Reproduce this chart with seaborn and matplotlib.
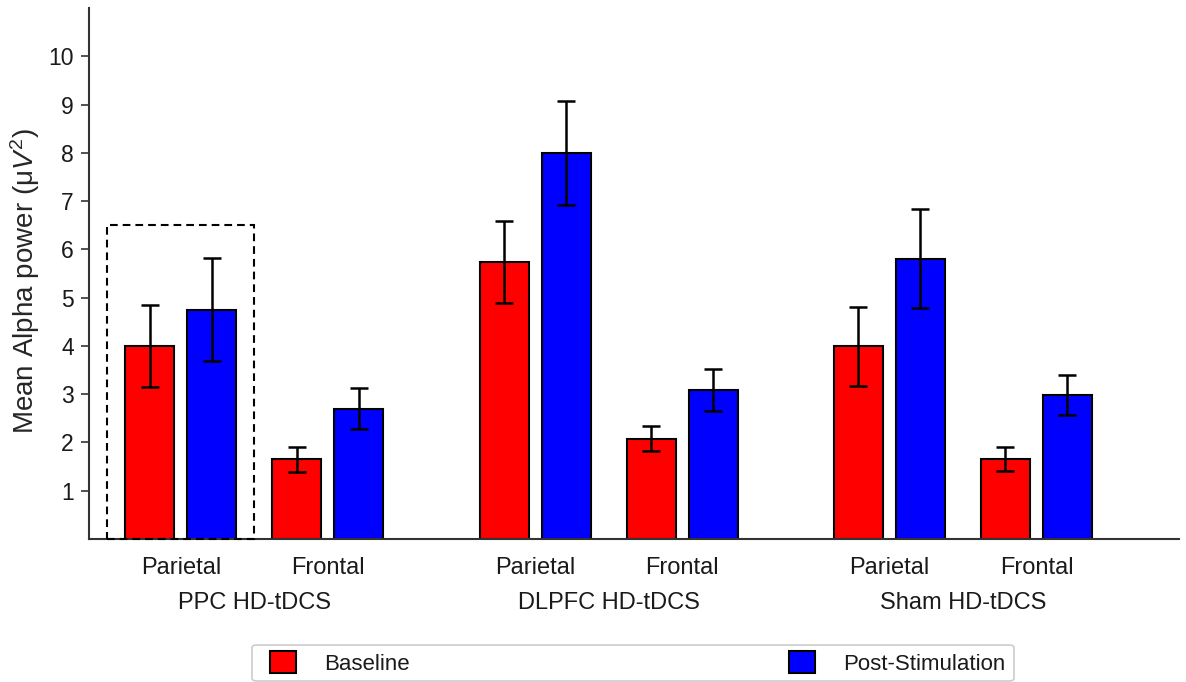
import numpy as np
import pandas as pd
import matplotlib.pyplot as plt
import seaborn as sns
from matplotlib.patches import Rectangle, Patch, FancyBboxPatch
from matplotlib.transforms import blended_transform_factory

# chart data
groups = ["PPC HD-tDCS", "DLPFC HD-tDCS", "Sham HD-tDCS"]
regions = ["Parietal", "Frontal"]
conditions = ["Baseline", "Post-Stimulation"]

baseline_mean = [4.00, 1.65, 5.74, 2.07, 3.99, 1.65]
baseline_err = [0.85, 0.26, 0.85, 0.26, 0.82, 0.25]
post_mean = [4.75, 2.70, 7.99, 3.08, 5.81, 2.98]
post_err = [1.07, 0.42, 1.08, 0.43, 1.03, 0.41]

colors = {"Baseline": "#ff0000", "Post-Stimulation": "#0000ff"}

# layout: where groups / regions sit on the x axis
group_pos = [0, 2.41, 4.82]
region_off = [0, 1]

rows = []
i = 0
for g, gp in zip(groups, group_pos):
    for r, ro in zip(regions, region_off):
        rows.append({"group": g, "region": r, "x": gp + ro, "condition": "Baseline",
                     "power": baseline_mean[i], "err": baseline_err[i]})
        rows.append({"group": g, "region": r, "x": gp + ro, "condition": "Post-Stimulation",
                     "power": post_mean[i], "err": post_err[i]})
        i += 1
df = pd.DataFrame(rows)

sns.set_style("ticks")
plt.rcParams["font.family"] = ["Liberation Sans", "DejaVu Sans"]
plt.rcParams["mathtext.fontset"] = "custom"
plt.rcParams["mathtext.rm"] = "Liberation Sans"
plt.rcParams["mathtext.it"] = "Liberation Sans:italic"
plt.rcParams["text.color"] = "#1a1a1a"
plt.rcParams["xtick.color"] = "#1a1a1a"
plt.rcParams["ytick.color"] = "#1a1a1a"

fig = plt.figure(figsize=(11.86, 6.82), dpi=100)
ax = fig.add_axes([0.075, 0.21, 0.919, 0.778])

sns.barplot(data=df, x="x", y="power", hue="condition", hue_order=conditions,
            palette=colors, saturation=1, native_scale=True, width=0.844, gap=0.21,
            errorbar=None, edgecolor="black", linewidth=1.5, legend=False, ax=ax)

# error bars on top of the seaborn bars
for cont, cond in zip(ax.containers, conditions):
    sub = df[df["condition"] == cond].sort_values("x")
    xs = [b.get_x() + b.get_width() / 2 for b in cont]
    hs = [b.get_height() for b in cont]
    ax.errorbar(xs, hs, yerr=sub["err"].values, fmt="none", ecolor="black",
                elinewidth=1.8, capsize=6.5, capthick=1.8, zorder=5)

# dashed box around PPC parietal
ax.add_patch(Rectangle((-0.5, 0), 1, 6.5, fill=False, ec="black", lw=1.5,
                       ls=(0, (3.7, 2.4)), clip_on=False, zorder=4))

ax.set_xlim(-0.626, 6.789)
ax.set_ylim(0, 11)
ax.set_yticks(range(1, 11))
ax.tick_params(axis="y", labelsize=16.5, length=6, width=1.2, pad=5, color="#333333")

xt = [gp + ro for gp in group_pos for ro in region_off]
ax.set_xticks(xt)
ax.set_xticklabels(regions * len(groups))
ax.tick_params(axis="x", labelsize=17, length=0, pad=13)

trans = blended_transform_factory(ax.transData, ax.transAxes)
for g, gp in zip(groups, group_pos):
    ax.text(gp + 0.5, -0.121, g, transform=trans, ha="center", va="center", fontsize=17)

ax.set_xlabel("")
ax.set_ylabel(r"Mean Alpha power (μ$V^2$)", fontsize=20)
ax.yaxis.set_label_coords(-0.043, 0.486)

sns.despine(ax=ax)
for s in ["left", "bottom"]:
    ax.spines[s].set_linewidth(1.5)
    ax.spines[s].set_color("#333333")

# legend frame drawn separately so the inner padding can be wider than tall
fig.patches.append(FancyBboxPatch((252 / 1186, 1 / 682), 762 / 1186, 36 / 682,
                                  boxstyle="round,pad=0,rounding_size=0.004",
                                  transform=fig.transFigure, fc="white", ec="0.8", lw=1.2))
handles = [Patch(facecolor=colors[c], edgecolor="black", linewidth=1.5) for c in conditions]
fig.legend(handles, conditions, loc="center left", bbox_to_anchor=(0.2277, 0.0279, 0.6197, 0),
           mode="expand", ncol=2, fontsize=16, handlelength=1.17, handleheight=1.17,
           handletextpad=1.26, borderaxespad=0, borderpad=0, frameon=False)

fig.savefig("out.png", dpi=100)
